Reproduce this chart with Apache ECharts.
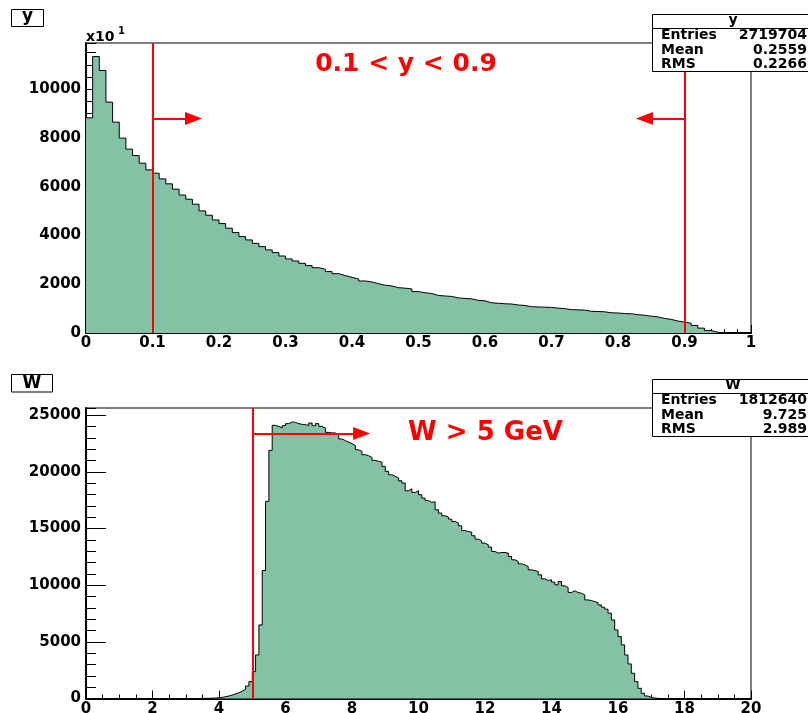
<!DOCTYPE html>
<html><head><meta charset="utf-8">
<script src="https://cdn.jsdelivr.net/npm/echarts@6/dist/echarts.min.js"></script>
<style>html,body{margin:0;padding:0;background:#fff}#c{width:808px;height:713px}</style>
</head><body><div id="c"></div>
<script>
// ---- data: y histogram (100 bins, 0..1) ----
const yBinStart = 0;
const yBinWidth = 0.01;
const yCounts = [
  8830, 11347, 10772, 9474, 8653, 7996, 7544, 7281, 6969, 6694,
  6559, 6324, 6120, 5900, 5660, 5490, 5285, 5010, 4832, 4640,
  4490, 4300, 4120, 3955, 3820, 3680, 3545, 3410, 3300, 3160,
  3040, 2957, 2860, 2765, 2680, 2615, 2520, 2435, 2355, 2285,
  2218, 2135, 2094, 2025, 1960, 1930, 1860, 1840, 1810, 1700,
  1650, 1620, 1540, 1520, 1500, 1440, 1420, 1400, 1340, 1320,
  1240, 1220, 1200, 1190, 1150, 1130, 1080, 1070, 1060, 1050,
  1020, 1000, 960, 950, 940, 890, 880, 870, 830, 820,
  800, 790, 750, 730, 690, 660, 600, 560, 490, 450,
  400, 310, 200, 100, 30, 10, 0, 0, 0, 0
];
// ---- data: W histogram (200 bins, 0..20) ----
const wBinStart = 0;
const wBinWidth = 0.1;
const wCounts = [
  0,0,0,0,0,0,0,0,0,0,
  0,0,0,0,0,0,0,0,0,0,
  0,0,0,0,0,0,0,0,0,0,
  0,0,0,0,5,10,15,25,40,65,
  100,160,220,310,400,510,660,810,1100,1490,
  2370,3840,6490,11290,17390,21890,24100,24010,23870,24070,
  24250,24400,24360,24250,24190,24160,24100,24310,24070,24250,
  24010,23870,23480,23430,23430,23280,22900,22750,22630,22480,
  22330,21950,21800,21510,21420,21270,21010,20920,20860,20480,
  20040,19740,19600,19450,19210,19010,18330,18500,18180,18330,
  17980,17680,17470,17300,17360,16650,16360,16120,16010,15830,
  15620,15480,15240,14820,14730,14680,14360,14060,13910,13710,
  13560,13360,12970,12830,12880,12880,12830,12530,12240,12090,
  11880,11790,11640,11350,11290,11200,10910,10560,10410,10470,
  10270,10030,10320,9940,9790,9350,9500,9350,9290,9140,
  8700,8640,8550,8460,8260,8060,7880,7530,6930,6050,
  5460,4730,3840,3050,2230,1490,900,460,220,100,
  40,10,0,0,0,0,0,0,0,0,
  0,0,0,0,0,0,0,0,0,0,
  0,0,0,0,0,0,0,0,0,0
];
// axis ranges
const yAxisX = [0, 1];
const yAxisCounts = [0, 11900];
const wAxisX = [0, 20];
const wAxisCounts = [0, 25630];
// cuts / annotations
const yCuts = [0.1, 0.9];
const yArrowEnds = [0.1617, 0.8398];
const yArrowLevel = 8800;
const wCut = 5;
const wArrowEnd = 8.29;
const wArrowLevel = 23370;
const yCutText = '0.1 < y < 0.9';
const wCutText = 'W > 5 GeV';
// stat boxes
const statLabels = ['Entries', 'Mean', 'RMS'];
const yStats = ['2719704', '0.2559', '0.2266'];
const wStats = ['1812640', '9.725', '2.989'];
const yTitle = 'y';
const wTitle = 'W';
const yScaleNote = ['x10', '1'];

const F = '"DejaVu Sans", "Liberation Sans", sans-serif';
const FILL = '#85c1a4';
const RED = '#ff0000';

function stepData(counts, x0, w) {
  const d = counts.map((c, i) => [x0 + i * w, c]);
  d.push([x0 + counts.length * w, counts[counts.length - 1]]);
  return d;
}
const plain = v => String(+v.toFixed(6));
function xAx(grid, range, interval, minorSplit, margin) {
  return {
    type: 'value', gridIndex: grid, min: range[0], max: range[1], interval: interval,
    axisLine: { onZero: false, lineStyle: { color: '#000', width: 2 } },
    axisTick: { inside: true, length: 8, lineStyle: { color: '#000', width: 1 } },
    minorTick: { show: true, splitNumber: minorSplit, length: 4, lineStyle: { color: '#000', width: 1 } },
    splitLine: { show: false }, minorSplitLine: { show: false },
    axisLabel: { color: '#000', fontFamily: F, fontWeight: 'bold', fontSize: 15, margin: margin, formatter: plain }
  };
}
function yAxMain(grid, range, interval) {
  return {
    type: 'value', gridIndex: grid, min: range[0], max: range[1], interval: interval,
    axisLine: { show: true, onZero: false, lineStyle: { color: '#000', width: 2 } },
    axisTick: { show: true, inside: true, length: 20, lineStyle: { color: '#000', width: 1 } },
    splitLine: { show: false },
    axisLabel: { color: '#000', fontFamily: F, fontWeight: 'bold', fontSize: 15, margin: 5, showMaxLabel: false, formatter: plain }
  };
}
function yAxMinor(grid, range, interval) {
  return {
    type: 'value', gridIndex: grid, min: range[0], max: range[1], interval: interval, position: 'left',
    axisLine: { show: false },
    axisTick: { show: true, inside: true, length: 10, lineStyle: { color: '#000', width: 1 } },
    splitLine: { show: false },
    axisLabel: { show: false }
  };
}
function hist(counts, x0, w, xi, yi, markLine) {
  return {
    type: 'line', xAxisIndex: xi, yAxisIndex: yi, data: stepData(counts, x0, w),
    step: 'end', symbol: 'none', showSymbol: false, silent: true, animation: false,
    lineStyle: { color: '#000', width: 1 },
    areaStyle: { color: FILL, opacity: 1 },
    markLine: markLine
  };
}
const arrowSym = { symbol: 'triangle', symbolSize: [13, 17] };
const topMark = {
  silent: true, animation: false, symbol: 'none', label: { show: false },
  emphasis: { disabled: true },
  lineStyle: { color: RED, width: 2, type: 'solid' },
  data: [
    { xAxis: yCuts[0] }, { xAxis: yCuts[1] },
    [{ coord: [yCuts[0], yArrowLevel], symbol: 'none' }, Object.assign({ coord: [yArrowEnds[0], yArrowLevel] }, arrowSym)],
    [{ coord: [yCuts[1], yArrowLevel], symbol: 'none' }, Object.assign({ coord: [yArrowEnds[1], yArrowLevel] }, arrowSym)]
  ]
};
const botMark = {
  silent: true, animation: false, symbol: 'none', label: { show: false },
  emphasis: { disabled: true },
  lineStyle: { color: RED, width: 2, type: 'solid' },
  data: [
    { xAxis: wCut },
    [{ coord: [wCut, wArrowLevel], symbol: 'none' }, Object.assign({ coord: [wArrowEnd, wArrowLevel] }, arrowSym)]
  ]
};

function statBox(top, title, values) {
  const els = [];
  els.push({ type: 'rect', z: 100, shape: { x: 652.5, y: top + 0.5, width: 162, height: 57 },
    style: { fill: '#fff', stroke: '#000', lineWidth: 1 } });
  els.push({ type: 'line', z: 101, shape: { x1: 652.5, y1: top + 14.5, x2: 814, y2: top + 14.5 },
    style: { stroke: '#000', lineWidth: 1 } });
  els.push({ type: 'text', z: 102, style: { text: title, x: 733, y: top + 6.5, align: 'center', verticalAlign: 'middle',
    font: 'bold 14px ' + F, fill: '#000' } });
  statLabels.forEach((lab, i) => {
    const yy = top + 21.5 + i * 14.5;
    els.push({ type: 'text', z: 102, style: { text: lab, x: 661, y: yy, align: 'left', verticalAlign: 'middle',
      font: 'bold 14px ' + F, fill: '#000' } });
    els.push({ type: 'text', z: 102, style: { text: values[i], x: 807, y: yy, align: 'right', verticalAlign: 'middle',
      font: 'bold 14px ' + F, fill: '#000' } });
  });
  return els;
}

const graphics = [].concat(
  [
    { type: 'rect', z: 100, shape: { x: 11.5, y: 9.5, width: 32, height: 17 }, style: { fill: '#fff', stroke: '#000', lineWidth: 1 } },
    { type: 'text', z: 101, style: { text: yTitle, x: 27.5, y: 16.5, align: 'center', verticalAlign: 'middle', font: 'bold 17px ' + F, fill: '#000' } },
    { type: 'rect', z: 100, shape: { x: 11.5, y: 374.5, width: 41, height: 17.5 }, style: { fill: '#fff', stroke: '#000', lineWidth: 1 } },
    { type: 'text', z: 101, style: { text: wTitle, x: 32, y: 383.5, align: 'center', verticalAlign: 'middle', font: 'bold 17px ' + F, fill: '#000' } },
    { type: 'text', z: 101, style: { text: yScaleNote[0], x: 86, y: 37.5, align: 'left', verticalAlign: 'middle', font: 'bold 14px ' + F, fill: '#000' } },
    { type: 'text', z: 101, style: { text: yScaleNote[1], x: 118, y: 31, align: 'left', verticalAlign: 'middle', font: 'bold 10px ' + F, fill: '#000' } },
    { type: 'text', z: 101, style: { text: yCutText, x: 406, y: 64.5, align: 'center', verticalAlign: 'middle', font: 'bold 25px ' + F, fill: RED } },
    { type: 'text', z: 101, style: { text: wCutText, x: 485.5, y: 433, align: 'center', verticalAlign: 'middle', font: 'bold 26px ' + F, fill: RED } }
  ],
  statBox(14, yTitle, yStats),
  statBox(379, wTitle, wStats)
);

const chart = echarts.init(document.getElementById('c'), null, { renderer: 'canvas' });
chart.setOption({
  animation: false,
  backgroundColor: '#fff',
  grid: [
    { left: 86, top: 43, width: 665, height: 290, show: true, borderColor: '#000', borderWidth: 1, backgroundColor: 'transparent', containLabel: false, outerBoundsMode: 'none' },
    { left: 86, top: 408, width: 665, height: 290.5, show: true, borderColor: '#000', borderWidth: 1, backgroundColor: 'transparent', containLabel: false, outerBoundsMode: 'none' }
  ],
  xAxis: [
    xAx(0, yAxisX, 0.1, 5, 3),
    xAx(1, wAxisX, 2, 4, 3)
  ],
  yAxis: [
    yAxMain(0, yAxisCounts, 2000),
    yAxMinor(0, yAxisCounts, 500),
    yAxMain(1, wAxisCounts, 5000),
    yAxMinor(1, wAxisCounts, 1000)
  ],
  series: [
    hist(yCounts, yBinStart, yBinWidth, 0, 0, topMark),
    hist(wCounts, wBinStart, wBinWidth, 1, 2, botMark)
  ],
  graphic: { elements: graphics }
});
</script>
</body></html>
